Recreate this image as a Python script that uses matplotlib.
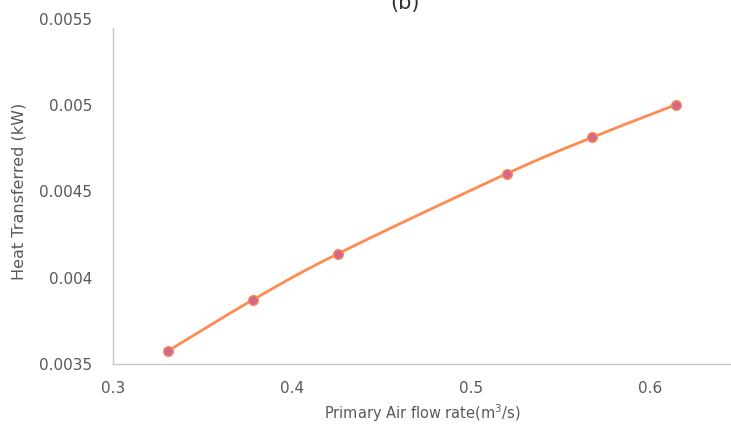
import numpy as np
import matplotlib
matplotlib.use("Agg")
import matplotlib.pyplot as plt

# Data
flow_rate = [0.331, 0.3782, 0.4256, 0.520, 0.5674, 0.6145]
heat_kw = [0.003577, 0.003872, 0.004139, 0.004604, 0.004813, 0.005004]
x_ticks = [0.3, 0.4, 0.5, 0.6]
x_tick_labels = ["0.3", "0.4", "0.5", "0.6"]
y_ticks = [0.0035, 0.004, 0.0045, 0.005, 0.0055]
y_tick_labels = ["0.0035", "0.004", "0.0045", "0.005", "0.0055"]

plt.rcParams['font.family'] = ['DejaVu Sans']

def catmull_rom(x, y, n=30):
    x = np.asarray(x, float); y = np.asarray(y, float)
    xs = (x - x.min()) / (x.max() - x.min())
    ys = (y - y.min()) / (y.max() - y.min())
    P = np.column_stack([xs, ys])
    P = np.vstack([2 * P[0] - P[1], P, 2 * P[-1] - P[-2]])
    out = []
    for i in range(1, len(P) - 2):
        p0, p1, p2, p3 = P[i - 1], P[i], P[i + 1], P[i + 2]
        t = np.linspace(0, 1, n)[:, None]
        seg = 0.5 * ((2 * p1) + (-p0 + p2) * t + (2 * p0 - 5 * p1 + 4 * p2 - p3) * t ** 2
                     + (-p0 + 3 * p1 - 3 * p2 + p3) * t ** 3)
        out.append(seg if i == 1 else seg[1:])
    out = np.vstack(out)
    return (out[:, 0] * (x.max() - x.min()) + x.min(),
            out[:, 1] * (y.max() - y.min()) + y.min())

fig = plt.figure(figsize=(7.31, 4.26), dpi=100)
ax = fig.add_axes([0.1542, 0.1455, 0.8458, 0.8100])

sx, sy = catmull_rom(flow_rate, heat_kw)
ax.plot(sx, sy, color='#FF8A52', lw=2.0, solid_capstyle='round', zorder=2)
ax.plot(flow_rate, heat_kw, ls='none', marker='o', ms=7, mfc='#D0698A',
        mec='#FF8A52', mew=1.0, zorder=3)

ax.set_xlim(0.3, 0.645)
ax.set_ylim(0.0035, 0.0055)
ax.set_xticks(x_ticks)
ax.set_xticklabels(x_tick_labels)
ax.set_yticks(y_ticks)
ax.set_yticklabels(y_tick_labels)

for s in ['top', 'right']:
    ax.spines[s].set_visible(False)
for s in ['left', 'bottom']:
    ax.spines[s].set_color('#C8C8C8')
    ax.spines[s].set_linewidth(1.0)
ax.spines['left'].set_bounds(0.0035, 0.005446)

ax.tick_params(axis='both', length=0, labelsize=11, labelcolor='#595959')
ax.tick_params(axis='y', pad=15)
ax.tick_params(axis='x', pad=12)

ax.set_xlabel('Primary Air flow rate(m$^3$/s)', fontsize=10.5, color='#595959', labelpad=5)
ax.set_ylabel('Heat Transferred (kW)', fontsize=11.5, color='#595959', labelpad=9)

fig.text(0.554, (426 - 9) / 426, '(b)', fontsize=15, color='#333333',
         ha='center', va='baseline')

fig.savefig('out.png', dpi=100)
